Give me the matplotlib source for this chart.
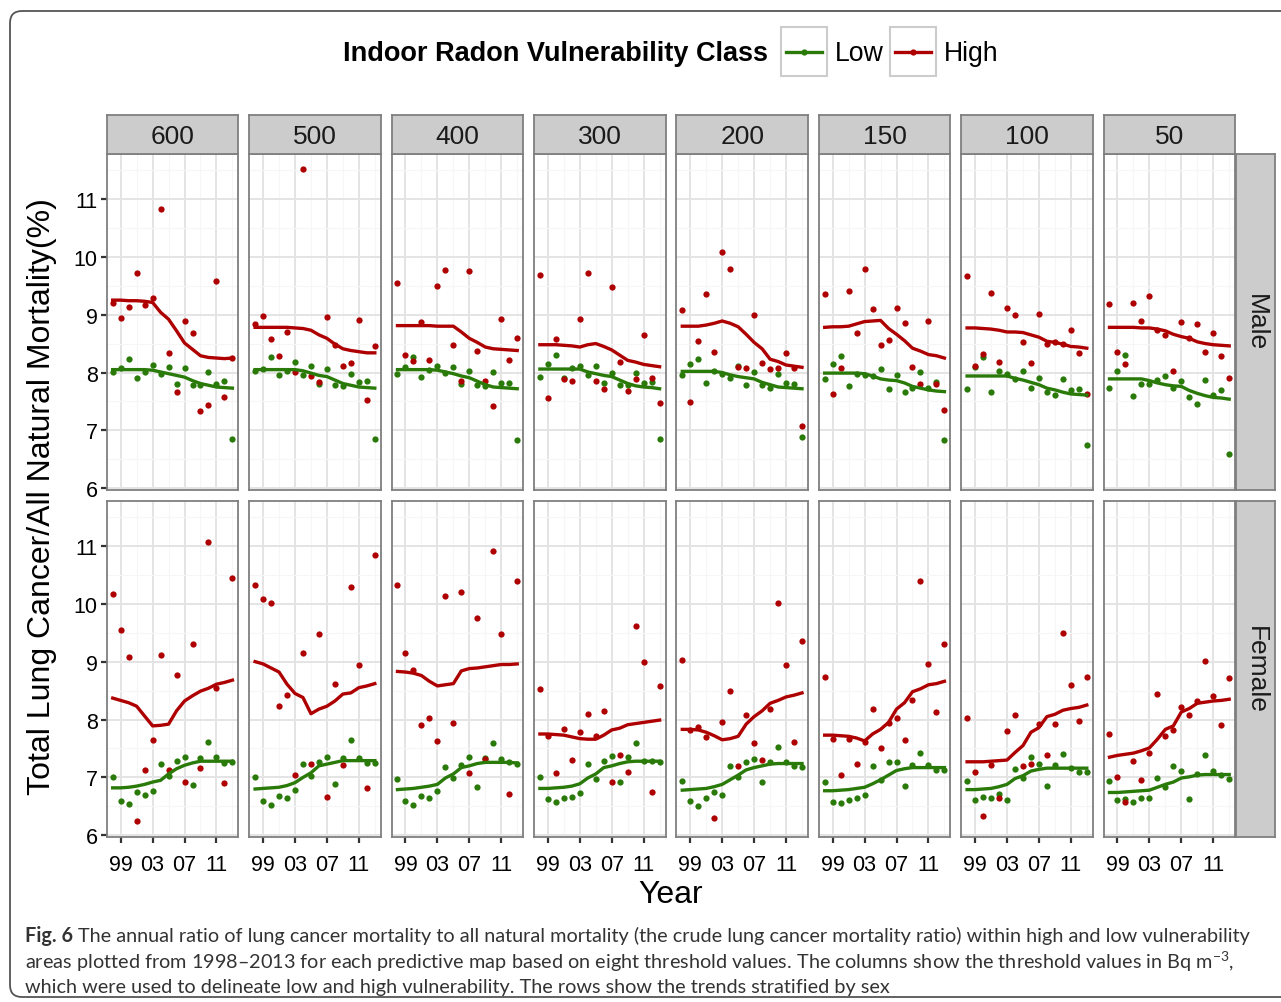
import matplotlib
matplotlib.use("Agg")
import matplotlib.pyplot as plt
from matplotlib.patches import FancyBboxPatch, Rectangle
from matplotlib.lines import Line2D

W, H = 1281, 1003

YEARS = list(range(1998, 2014))
THRESHOLDS = ["600", "500", "400", "300", "200", "150", "100", "50"]
SEXES = ["Male", "Female"]
CLASSES = ["Low", "High"]

# observed yearly ratios (%), one row per threshold, 1998..2013
MALE_HIGH = [
    [9.20, 8.95, 9.13, 9.71, 9.17, 9.28, 10.82, 8.34, 7.67, 8.89, 8.69, 7.34, 7.44, 9.58, 7.58, 8.25],
    [8.83, 8.97, 8.58, 8.28, 8.70, 8.01, 11.51, 7.94, 7.83, 8.96, 8.48, 8.11, 8.17, 8.90, 7.52, 8.45],
    [9.55, 8.30, 8.20, 8.87, 8.21, 9.49, 9.77, 8.48, 7.85, 9.75, 8.37, 7.85, 7.43, 8.93, 8.22, 8.60],
    [9.68, 7.56, 8.58, 7.89, 7.85, 8.92, 9.71, 7.86, 7.72, 9.47, 8.19, 7.68, 7.89, 8.64, 7.91, 7.47],
    [9.08, 7.49, 8.54, 9.35, 8.36, 10.08, 9.79, 8.09, 8.07, 8.99, 8.16, 8.06, 8.08, 8.33, 8.07, 7.08],
    [9.35, 7.63, 8.07, 9.40, 8.69, 9.79, 9.10, 8.48, 8.57, 9.11, 8.85, 8.10, 7.80, 8.89, 7.81, 7.36],
    [9.67, 8.12, 8.32, 9.37, 8.19, 9.11, 9.00, 8.52, 8.16, 9.01, 8.50, 8.53, 8.50, 8.73, 8.34, 7.63],
    [9.18, 8.35, 8.15, 9.20, 8.89, 9.32, 8.74, 8.65, 8.02, 8.88, 8.60, 8.84, 8.36, 8.69, 8.28, 7.90],
]
MALE_LOW = [
    [8.01, 8.07, 8.24, 7.90, 8.01, 8.13, 7.98, 8.10, 7.81, 8.07, 7.78, 7.79, 8.01, 7.80, 7.85, 6.85],
    [8.03, 8.06, 8.26, 7.95, 8.03, 8.18, 7.95, 8.11, 7.81, 8.06, 7.78, 7.76, 7.98, 7.83, 7.85, 6.85],
    [7.98, 8.09, 8.27, 7.92, 8.05, 8.11, 8.00, 8.09, 7.81, 8.02, 7.78, 7.77, 8.01, 7.82, 7.82, 6.83],
    [7.93, 8.14, 8.30, 7.91, 8.07, 8.11, 7.96, 8.12, 7.82, 7.99, 7.78, 7.79, 7.99, 7.82, 7.83, 6.86],
    [7.95, 8.15, 8.24, 7.82, 8.03, 7.97, 7.90, 8.11, 7.78, 8.01, 7.78, 7.74, 7.98, 7.82, 7.81, 6.88],
    [7.89, 8.15, 8.29, 7.77, 7.97, 7.95, 7.94, 8.06, 7.71, 7.96, 7.67, 7.73, 8.01, 7.73, 7.84, 6.84],
    [7.72, 8.09, 8.26, 7.67, 8.02, 7.97, 7.88, 8.02, 7.74, 7.90, 7.67, 7.61, 7.88, 7.69, 7.72, 6.75],
    [7.73, 8.03, 8.30, 7.60, 7.80, 7.81, 7.87, 7.94, 7.74, 7.86, 7.57, 7.45, 7.87, 7.61, 7.70, 6.60],
]
FEMALE_HIGH = [
    [10.17, 9.55, 9.08, 6.24, 7.13, 7.64, 9.11, 7.12, 8.77, 6.92, 9.30, 7.16, 11.06, 8.54, 6.91, 10.45],
    [10.32, 10.08, 10.02, 8.23, 8.42, 7.05, 9.15, 7.24, 9.48, 6.67, 8.62, 7.21, 10.29, 8.94, 6.82, 10.84],
    [10.33, 9.15, 8.85, 7.90, 8.02, 7.63, 10.13, 7.94, 10.21, 7.08, 9.76, 7.31, 10.91, 9.47, 6.72, 10.40],
    [8.52, 7.72, 7.07, 7.83, 7.30, 7.78, 8.10, 7.72, 8.14, 6.92, 7.39, 7.09, 9.62, 9.00, 6.74, 8.58],
    [9.02, 7.82, 7.87, 7.69, 6.30, 7.95, 8.49, 7.20, 8.07, 7.59, 7.30, 8.18, 10.02, 8.95, 7.62, 9.36],
    [8.73, 7.66, 7.05, 7.66, 7.23, 7.62, 8.19, 7.51, 7.94, 8.03, 7.64, 8.33, 10.39, 8.96, 8.13, 9.31],
    [8.02, 7.10, 6.33, 7.21, 6.64, 7.81, 8.07, 7.20, 7.23, 7.93, 7.38, 7.93, 9.50, 8.60, 7.97, 8.74],
    [7.75, 7.01, 6.58, 7.28, 6.96, 7.42, 8.44, 7.72, 7.82, 8.21, 8.07, 8.32, 9.01, 8.41, 7.90, 8.71],
]
FEMALE_LOW = [
    [7.01, 6.60, 6.54, 6.74, 6.69, 6.77, 7.23, 7.03, 7.29, 7.35, 6.87, 7.34, 7.62, 7.35, 7.25, 7.26],
    [7.00, 6.59, 6.52, 6.68, 6.65, 6.79, 7.24, 7.02, 7.27, 7.36, 6.89, 7.34, 7.64, 7.34, 7.25, 7.25],
    [6.97, 6.60, 6.53, 6.68, 6.65, 6.77, 7.18, 6.99, 7.21, 7.35, 6.83, 7.33, 7.59, 7.31, 7.26, 7.23],
    [7.01, 6.62, 6.58, 6.65, 6.67, 6.73, 7.24, 6.98, 7.28, 7.37, 6.92, 7.35, 7.60, 7.28, 7.28, 7.27],
    [6.93, 6.59, 6.50, 6.64, 6.75, 6.69, 7.19, 7.01, 7.27, 7.32, 6.92, 7.26, 7.52, 7.26, 7.20, 7.18],
    [6.92, 6.58, 6.56, 6.61, 6.65, 6.70, 7.19, 6.96, 7.26, 7.26, 6.86, 7.21, 7.42, 7.21, 7.13, 7.12],
    [6.93, 6.61, 6.66, 6.64, 6.72, 6.61, 7.14, 6.99, 7.35, 7.23, 6.86, 7.21, 7.40, 7.17, 7.10, 7.09],
    [6.93, 6.61, 6.62, 6.58, 6.64, 6.64, 6.99, 6.84, 7.20, 7.11, 6.62, 7.06, 7.38, 7.11, 7.05, 6.97],
]

# smoothed trend at each year
MALE_HIGH_FIT = [
    [9.25, 9.25, 9.24, 9.24, 9.23, 9.21, 9.04, 8.92, 8.72, 8.51, 8.40, 8.29, 8.26, 8.25, 8.24, 8.25],
    [8.78, 8.78, 8.78, 8.78, 8.78, 8.77, 8.76, 8.73, 8.65, 8.59, 8.49, 8.41, 8.38, 8.36, 8.34, 8.34],
    [8.81, 8.81, 8.81, 8.81, 8.81, 8.80, 8.80, 8.80, 8.70, 8.59, 8.52, 8.44, 8.41, 8.40, 8.39, 8.38],
    [8.48, 8.48, 8.48, 8.47, 8.46, 8.44, 8.48, 8.50, 8.45, 8.39, 8.30, 8.21, 8.18, 8.14, 8.12, 8.10],
    [8.80, 8.80, 8.80, 8.82, 8.85, 8.89, 8.85, 8.79, 8.66, 8.52, 8.41, 8.23, 8.19, 8.13, 8.11, 8.09],
    [8.78, 8.79, 8.79, 8.80, 8.84, 8.88, 8.89, 8.90, 8.76, 8.66, 8.55, 8.42, 8.37, 8.31, 8.29, 8.25],
    [8.77, 8.77, 8.76, 8.75, 8.73, 8.70, 8.70, 8.69, 8.65, 8.61, 8.54, 8.52, 8.49, 8.45, 8.44, 8.42],
    [8.78, 8.78, 8.78, 8.78, 8.77, 8.77, 8.75, 8.72, 8.66, 8.62, 8.59, 8.53, 8.50, 8.48, 8.47, 8.46],
]
MALE_LOW_FIT = [
    [8.05, 8.05, 8.05, 8.05, 8.05, 8.04, 8.01, 7.98, 7.95, 7.92, 7.86, 7.81, 7.78, 7.75, 7.74, 7.73],
    [8.05, 8.05, 8.05, 8.05, 8.05, 8.05, 8.03, 7.99, 7.95, 7.93, 7.87, 7.81, 7.78, 7.75, 7.74, 7.73],
    [8.05, 8.05, 8.05, 8.05, 8.05, 8.04, 8.01, 7.98, 7.94, 7.91, 7.85, 7.79, 7.75, 7.74, 7.73, 7.72],
    [8.06, 8.06, 8.06, 8.06, 8.06, 8.06, 8.01, 7.98, 7.95, 7.93, 7.87, 7.81, 7.77, 7.75, 7.74, 7.72],
    [8.02, 8.02, 8.02, 8.02, 8.02, 8.00, 7.96, 7.93, 7.91, 7.89, 7.83, 7.79, 7.75, 7.74, 7.73, 7.72],
    [7.99, 7.99, 7.99, 7.99, 7.99, 7.98, 7.94, 7.89, 7.87, 7.86, 7.82, 7.76, 7.73, 7.70, 7.68, 7.67],
    [7.94, 7.94, 7.94, 7.94, 7.94, 7.94, 7.90, 7.87, 7.83, 7.79, 7.73, 7.70, 7.66, 7.63, 7.62, 7.61],
    [7.89, 7.89, 7.89, 7.89, 7.89, 7.86, 7.82, 7.79, 7.77, 7.76, 7.69, 7.64, 7.60, 7.57, 7.56, 7.54],
]
FEMALE_HIGH_FIT = [
    [8.37, 8.33, 8.29, 8.23, 8.06, 7.89, 7.90, 7.92, 8.15, 8.32, 8.41, 8.49, 8.54, 8.61, 8.64, 8.68],
    [9.00, 8.96, 8.89, 8.82, 8.61, 8.45, 8.38, 8.10, 8.18, 8.23, 8.32, 8.44, 8.46, 8.55, 8.58, 8.62],
    [8.83, 8.82, 8.80, 8.76, 8.66, 8.58, 8.60, 8.62, 8.84, 8.88, 8.89, 8.91, 8.93, 8.95, 8.95, 8.96],
    [7.75, 7.75, 7.74, 7.73, 7.70, 7.67, 7.66, 7.66, 7.73, 7.82, 7.85, 7.91, 7.93, 7.95, 7.97, 7.99],
    [7.83, 7.83, 7.82, 7.78, 7.72, 7.65, 7.67, 7.71, 7.92, 8.05, 8.15, 8.28, 8.33, 8.39, 8.42, 8.46],
    [7.73, 7.73, 7.72, 7.71, 7.68, 7.63, 7.75, 7.83, 7.95, 8.18, 8.29, 8.48, 8.53, 8.60, 8.62, 8.66],
    [7.27, 7.27, 7.27, 7.28, 7.29, 7.30, 7.43, 7.55, 7.78, 7.86, 8.05, 8.09, 8.16, 8.19, 8.21, 8.25],
    [7.35, 7.38, 7.40, 7.42, 7.46, 7.51, 7.66, 7.83, 7.89, 8.13, 8.19, 8.28, 8.30, 8.32, 8.33, 8.35],
]
FEMALE_LOW_FIT = [
    [6.82, 6.82, 6.83, 6.85, 6.88, 6.92, 6.95, 7.06, 7.15, 7.21, 7.25, 7.28, 7.28, 7.28, 7.28, 7.28],
    [6.80, 6.81, 6.82, 6.83, 6.86, 6.91, 7.00, 7.08, 7.20, 7.23, 7.26, 7.29, 7.29, 7.29, 7.29, 7.29],
    [6.79, 6.80, 6.81, 6.83, 6.85, 6.88, 6.99, 7.06, 7.17, 7.20, 7.24, 7.26, 7.26, 7.26, 7.26, 7.25],
    [6.81, 6.81, 6.82, 6.83, 6.85, 6.89, 6.99, 7.06, 7.17, 7.20, 7.24, 7.27, 7.28, 7.28, 7.28, 7.28],
    [6.78, 6.79, 6.80, 6.81, 6.84, 6.88, 6.96, 7.04, 7.13, 7.17, 7.20, 7.23, 7.24, 7.24, 7.24, 7.24],
    [6.77, 6.77, 6.78, 6.79, 6.81, 6.83, 6.89, 6.96, 7.04, 7.12, 7.15, 7.17, 7.17, 7.17, 7.17, 7.17],
    [6.79, 6.79, 6.80, 6.81, 6.84, 6.88, 6.98, 7.03, 7.11, 7.14, 7.16, 7.16, 7.16, 7.16, 7.16, 7.16],
    [6.74, 6.74, 6.75, 6.76, 6.77, 6.78, 6.83, 6.88, 6.92, 6.99, 7.01, 7.04, 7.05, 7.05, 7.05, 7.05],
]

X_BREAKS = [1999, 2003, 2007, 2011]
X_MINOR = [2001, 2005, 2009, 2013]
X_LABELS = ["99", "03", "07", "11"]
Y_BREAKS = [6, 7, 8, 9, 10, 11]

COLORS = {"Low": "#2A7A0A", "High": "#AE0000"}
CAPTION = [
    "The annual ratio of lung cancer mortality to all natural mortality (the crude lung cancer mortality ratio) within high and low vulnerability",
    r"areas plotted from 1998–2013 for each predictive map based on eight threshold values. The columns show the threshold values in Bq m$^{-3}$,",
    "which were used to delineate low and high vulnerability. The rows show the trends stratified by sex",
]

plt.rcParams["font.family"] = ["Liberation Sans", "DejaVu Sans"]
plt.rcParams["mathtext.fontset"] = "custom"
plt.rcParams["mathtext.rm"] = "Lato"
plt.rcParams["mathtext.it"] = "Lato"

SERIES = {
    "Male": {"Low": (MALE_LOW, MALE_LOW_FIT), "High": (MALE_HIGH, MALE_HIGH_FIT)},
    "Female": {"Low": (FEMALE_LOW, FEMALE_LOW_FIT), "High": (FEMALE_HIGH, FEMALE_HIGH_FIT)},
}

# shared scale, ggplot-style 5% expansion
all_vals = [v for grp in (MALE_HIGH, MALE_LOW, FEMALE_HIGH, FEMALE_LOW) for row in grp for v in row]
y_lo, y_hi = min(all_vals), max(all_vals)
y_pad = 0.05 * (y_hi - y_lo)
x_pad = 0.05 * (YEARS[-1] - YEARS[0])


def px_box(x0, y0, x1, y1):
    return [x0 / W, 1 - y1 / H, (x1 - x0) / W, (y1 - y0) / H]


fig = plt.figure(figsize=(W / 100, H / 100), dpi=100)
fig.patch.set_facecolor("white")

# overlay in pixel coordinates for frame, legend, titles, caption
over = fig.add_axes([0, 0, 1, 1])
over.set_xlim(0, W)
over.set_ylim(H, 0)
over.axis("off")

over.add_patch(FancyBboxPatch((10, 12), 1300, 986, boxstyle="round,pad=0,rounding_size=12",
                              fc="none", ec="#555555", lw=1.3))

PANEL_X0, PANEL_DX, PANEL_W = 106.7, 142.4, 131.7
ROWS = [(155.0, 490.7), (502.0, 837.7)]
STRIP_TOP = 116.0
RSTRIP = (1236.0, 1275.0)
BORDER = "#7F7F7F"

for r, sex in enumerate(SEXES):
    y0, y1 = ROWS[r]
    for c, thr in enumerate(THRESHOLDS):
        x0 = PANEL_X0 + c * PANEL_DX
        ax = fig.add_axes(px_box(x0, y0, x0 + PANEL_W, y1))
        ax.set_xlim(YEARS[0] - x_pad, YEARS[-1] + x_pad)
        ax.set_ylim(y_lo - y_pad, y_hi + y_pad)
        ax.set_xticks(X_BREAKS)
        ax.set_xticks(X_MINOR, minor=True)
        ax.set_yticks(Y_BREAKS)
        ax.set_yticks([b + 0.5 for b in Y_BREAKS], minor=True)
        ax.set_axisbelow(True)
        ax.grid(which="major", color="#E4E4E4", lw=1.4)
        ax.grid(which="minor", color="#F6F6F6", lw=0.8)
        for sp in ax.spines.values():
            sp.set_color(BORDER)
            sp.set_linewidth(1.3)
        ax.tick_params(which="minor", length=0)
        ax.tick_params(which="major", length=4.5, width=1.6, color="#333333",
                       labelsize=15.5, labelcolor="black")
        ax.tick_params(axis="y", pad=2)
        ax.tick_params(axis="x", pad=8)
        if c == 0:
            ax.set_yticklabels([str(b) for b in Y_BREAKS])
        else:
            ax.tick_params(axis="y", length=0, labelleft=False)
        if r == 1:
            ax.set_xticklabels(X_LABELS)
        else:
            ax.tick_params(axis="x", length=0, labelbottom=False)

        for cls in CLASSES:
            pts, fit = SERIES[sex][cls]
            ax.plot(YEARS, pts[c], "o", color=COLORS[cls], ms=4.5, mec="none", zorder=3)
        for cls in CLASSES:
            pts, fit = SERIES[sex][cls]
            ax.plot(YEARS, fit[c], "-", color=COLORS[cls], lw=2.4, zorder=4,
                    solid_joinstyle="round")

        if r == 0:
            sax = fig.add_axes(px_box(x0, STRIP_TOP, x0 + PANEL_W, y0))
            sax.set_facecolor("#CCCCCC")
            sax.set_xticks([])
            sax.set_yticks([])
            for sp in sax.spines.values():
                sp.set_color(BORDER)
                sp.set_linewidth(1.3)
            sax.text(0.5, 0.47, thr, ha="center", va="center", fontsize=19,
                     color="#1A1A1A", transform=sax.transAxes)

    rax = fig.add_axes(px_box(RSTRIP[0], y0, RSTRIP[1], y1))
    rax.set_facecolor("#CCCCCC")
    rax.set_xticks([])
    rax.set_yticks([])
    for sp in rax.spines.values():
        sp.set_color(BORDER)
        sp.set_linewidth(1.3)
    rax.text(0.5, 0.5, sex, ha="center", va="center", rotation=-90, fontsize=19,
             color="#1A1A1A", transform=rax.transAxes)

# axis titles
over.text(42, (ROWS[0][0] + ROWS[1][1]) / 2, "Total Lung Cancer/All Natural Mortality(%)",
          rotation=90, ha="center", va="center", fontsize=23)
over.text((PANEL_X0 + PANEL_X0 + 7 * PANEL_DX + PANEL_W) / 2, 895, "Year",
          ha="center", va="center", fontsize=23)

# legend
over.text(343, 54, "Indoor Radon Vulnerability Class", ha="left", va="center",
          fontsize=19.5, fontweight="bold")
for i, cls in enumerate(CLASSES):
    kx = 781 + i * 109
    over.add_patch(Rectangle((kx, 28), 46, 49, fc="white", ec="#CCCCCC", lw=1.5))
    over.add_line(Line2D([kx + 5, kx + 41], [52.5, 52.5], color=COLORS[cls], lw=2.4))
    over.plot([kx + 23], [52.5], "o", color=COLORS[cls], ms=4.5, mec="none")
    over.text(kx + 54, 54, cls, ha="left", va="center", fontsize=19.2)

# caption
cap_font = dict(fontsize=14.3, family=["Lato", "DejaVu Sans"], color="#333333", va="center")
renderer = fig.canvas.get_renderer()
fig_lbl = over.text(25, 936, "Fig. 6", fontweight="bold", **cap_font)
bb = fig_lbl.get_window_extent(renderer)
over.text(25 + bb.width + 5, 936, CAPTION[0], **cap_font)
over.text(25, 962, CAPTION[1], **cap_font)
over.text(25, 988, CAPTION[2], **cap_font)

fig.savefig("out.png", dpi=100, facecolor="white")
